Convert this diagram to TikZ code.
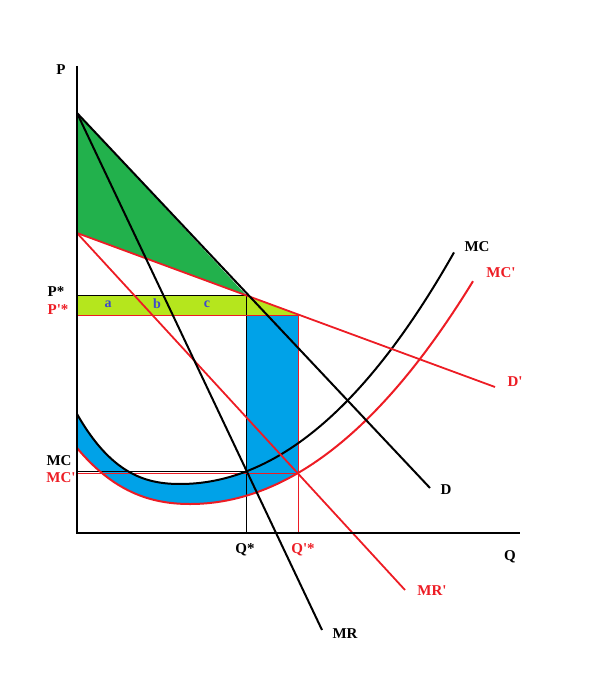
\documentclass[tikz,border=0pt]{standalone}
\usepackage{fontspec}
\setmainfont{Liberation Serif}
\newcommand{\pr}{\textquotesingle}
\begin{document}
\begin{tikzpicture}[x=1pt,y=-1pt,
  declare function={
    mcu(\t)=(\t-180)/100;
    mcy(\t)=484-28*mcu(\t)*mcu(\t)-((\t<180)?-36.9:1.04)*mcu(\t)*mcu(\t)*mcu(\t);
    mpu(\t)=(\t-190)/100;
    mpy(\t)=504-25.81*mpu(\t)*mpu(\t)-((\t<190)?-16:0.71)*mpu(\t)*mpu(\t)*mpu(\t);
  },
  lbl/.style={font=\bfseries\fontsize{15}{15}\selectfont, inner sep=0pt},
  rlbl/.style={lbl, text=pred},
  sl/.style={font=\bfseries\fontsize{14}{14}\selectfont, text=pblue, inner sep=0pt},
  thin line/.style={line width=0.8pt}]
\definecolor{pred}{HTML}{ED1C24}
\definecolor{pgreen}{HTML}{22B14C}
\definecolor{plime}{HTML}{B5E61D}
\definecolor{pcyan}{HTML}{00A2E8}
\definecolor{pblue}{HTML}{3F48CC}
\useasboundingbox (0,0) rectangle (595,685);
% key coordinates
\coordinate (O) at (77,533);
\coordinate (Ytop) at (77,66);
\coordinate (Xend) at (520,533);
\coordinate (A) at (77,113);
\coordinate (A2) at (77,233);
\coordinate (E) at (246,295);
\coordinate (E2) at (298,315);
\coordinate (Dend) at (430,488);
\coordinate (MRend) at (322,630);
\coordinate (Dpend) at (495,387);
\coordinate (MRpend) at (405,590);
\coordinate (Pstar) at (77,295);
\coordinate (Ppstar) at (77,315);
\coordinate (Qstar) at (246,533);
\coordinate (Qpstar) at (298,533);
\coordinate (M) at (246,471);
\coordinate (Mp) at (298,473);
\coordinate (MCl) at (77,471);
\coordinate (MCpl) at (77,473);
% fills
\fill[pgreen] (A) -- (E) -- (A2) -- cycle;
\fill[plime] (Pstar) -- (E) -- (E2) -- (Ppstar) -- cycle;
\begin{scope}
\clip (77,300) rectangle (298,560);
\fill[pcyan] plot[domain=77:300, samples=80] (\x,{mcy(\x)}) -- plot[domain=300:77, samples=80] (\x,{mpy(\x)}) -- cycle;
\end{scope}
\fill[pcyan] (246,315) rectangle (298,472);
% thin guide lines
\draw[thin line] (Pstar) -- (E);
\draw[thin line] (E) -- (Qstar);
\draw[thin line] (MCl) -- (M);
\draw[thin line, pred] (Ppstar) -- (E2);
\draw[thin line, pred] (E2) -- (Qpstar);
\draw[thin line, pred] (MCpl) -- (Mp);
% curves
\draw[line width=2pt] plot[domain=77:454, samples=120, smooth] (\x,{mcy(\x)});
\draw[line width=2pt, pred] plot[domain=77:473, samples=120, smooth] (\x,{mpy(\x)});
% lines
\draw[pred, line width=1.8pt] (A2) -- (Dpend);
\draw[pred, line width=1.8pt] (A2) -- (MRpend);
\draw[line width=2pt] (A) -- (Dend);
\draw[line width=2pt] (A) -- (MRend);
% axes
\draw[line width=2.5pt] (Ytop) -- (O) -- (Xend);
% labels
\node[lbl] (lP) at (61,70) {P};
\node[lbl] (lQ) at (510,557) {Q};
\node[lbl] (lPs) at (56,292) {P*};
\node[rlbl] (lPps) at (58,310) {P\pr*};
\node[lbl] (lMCl) at (59,461) {MC};
\node[rlbl] (lMCpl) at (61,478) {MC\pr};
\node[lbl] (lQs) at (245,550) {Q*};
\node[rlbl] (lQps) at (303,550) {Q\pr*};
\node[lbl] (lMC) at (477,247) {MC};
\node[rlbl] (lMCp) at (501,273) {MC\pr};
\node[rlbl] (lDp) at (515,382) {D\pr};
\node[lbl] (lD) at (446,490) {D};
\node[rlbl] (lMRp) at (432,591) {MR\pr};
\node[lbl] (lMR) at (345,634) {MR};
\node[sl] (la) at (108,304) {a};
\node[sl] (lb) at (157,304) {b};
\node[sl] (lc) at (207,304) {c};
\end{tikzpicture}
\end{document}
